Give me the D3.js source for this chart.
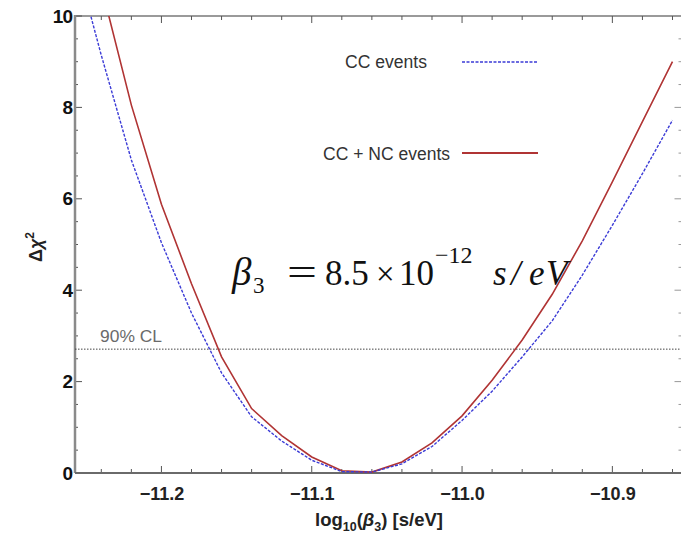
<!DOCTYPE html>
<html>
<head>
<meta charset="utf-8">
<script src="https://cdn.jsdelivr.net/npm/d3@7/dist/d3.min.js"></script>
<style>
  html, body { margin: 0; padding: 0; background: #fff; }
  svg { display: block; }
</style>
</head>
<body>
<svg id="chart" width="681" height="544"></svg>
<script>
// log10(beta3) sampling grid, step 0.02
const logBeta = [-11.26, -11.24, -11.22, -11.20, -11.18, -11.16, -11.14, -11.12, -11.10, -11.08,
                 -11.06, -11.04, -11.02, -11.00, -10.98, -10.96, -10.94, -10.92, -10.90, -10.88, -10.86];
// Delta chi^2, CC events only
const chi2CC   = [11.6, 9.14, 6.85, 5.04, 3.50, 2.19, 1.23, 0.70, 0.28, 0.03,
                  0.02, 0.20, 0.58, 1.15, 1.79, 2.54, 3.33, 4.33, 5.42, 6.55, 7.72];
// Delta chi^2, CC + NC events
const chi2CCNC = [13.3, 10.65, 8.05, 5.88, 4.14, 2.54, 1.41, 0.82, 0.35, 0.05,
                  0.02, 0.24, 0.66, 1.25, 2.03, 2.91, 3.91, 5.08, 6.37, 7.69, 9.0];
const clLevel = 2.71;
const xTicks = [-11.2, -11.1, -11.0, -10.9];
const yTicks = [0, 2, 4, 6, 8, 10];

const svg = d3.select("#chart");
const mLeft = 75, mRight = 680, mTop = 16, mBottom = 473;
const frameRight = 681.5;

const x = d3.scaleLinear().domain([-11.2575, -10.855]).range([mLeft, mRight]);
const y = d3.scaleLinear().domain([0, 10]).range([mBottom, mTop]);

svg.append("defs").append("clipPath").attr("id", "plotClip")
  .append("rect").attr("x", mLeft).attr("y", mTop).attr("width", frameRight - mLeft).attr("height", mBottom - mTop);

const sans = "Liberation Sans, Arial, Helvetica, sans-serif";

// top frame edge
svg.append("line").attr("x1", mLeft).attr("x2", frameRight).attr("y1", mTop).attr("y2", mTop)
  .attr("stroke", "#9a9a9a").attr("stroke-width", 2);

// ticks on all four sides
const xMinor = d3.range(-11.24, -10.855, 0.02).map(v => +v.toFixed(2));
const yMinor = d3.range(0, 10.01, 0.5);
const tickG = svg.append("g").attr("stroke", "#555").attr("stroke-width", 1);
xMinor.forEach(v => {
  const major = xTicks.some(t => Math.abs(t - v) < 1e-6);
  const len = major ? 7 : 4;
  tickG.append("line").attr("x1", x(v)).attr("x2", x(v)).attr("y1", mBottom).attr("y2", mBottom - len);
  tickG.append("line").attr("x1", x(v)).attr("x2", x(v)).attr("y1", mTop).attr("y2", mTop + len);
});
yMinor.forEach(v => {
  const major = yTicks.includes(v);
  const len = major ? 7 : 3;
  tickG.append("line").attr("x1", mLeft).attr("x2", mLeft + len).attr("y1", y(v)).attr("y2", y(v));
  tickG.append("line").attr("x1", frameRight).attr("x2", frameRight - len).attr("y1", y(v)).attr("y2", y(v))
    .attr("stroke", "#999");
});

// axis lines
svg.append("line").attr("x1", mLeft).attr("x2", mLeft).attr("y1", mTop - 1).attr("y2", mBottom)
  .attr("stroke", "#8a8a8a").attr("stroke-width", 2.5);
svg.append("line").attr("x1", mLeft).attr("x2", frameRight).attr("y1", mBottom).attr("y2", mBottom)
  .attr("stroke", "#6a6a6a").attr("stroke-width", 2);

// tick labels
const xAxis = d3.axisBottom(x).tickValues(xTicks).tickSize(0).tickPadding(14)
  .tickFormat(d => d3.format(".1f")(d).replace("-", "\u2212"));
const gx = svg.append("g").attr("transform", `translate(0,${mBottom})`).call(xAxis);
gx.select(".domain").remove();
gx.selectAll("text").attr("font-family", sans).attr("y", 27).attr("dy", 0)
  .attr("font-weight", "bold").attr("font-size", 18).attr("fill", "#222");

const yAxis = d3.axisLeft(y).tickValues(yTicks).tickSize(0).tickPadding(3);
const gy = svg.append("g").attr("transform", `translate(${mLeft},0)`).call(yAxis);
gy.select(".domain").remove();
gy.selectAll("text").attr("font-family", sans)
  .attr("font-weight", "bold").attr("font-size", 19).attr("fill", "#111")
  .attr("letter-spacing", -1);

// axis titles
const xt = svg.append("text").attr("x", 379).attr("y", 526).attr("text-anchor", "middle")
  .attr("font-family", sans).attr("font-weight", "bold")
  .attr("font-size", 18.5).attr("fill", "#222");
xt.append("tspan").text("log");
xt.append("tspan").attr("font-size", 12.5).attr("dy", 5).text("10");
xt.append("tspan").attr("dy", -5).text("(");
xt.append("tspan").attr("font-style", "italic").text("\u03B2");
xt.append("tspan").attr("font-size", 12.5).attr("dy", 5).text("3");
xt.append("tspan").attr("dy", -5).text(")  [s/eV]");

const yt = svg.append("text").attr("transform", "translate(42,247) rotate(-90)")
  .attr("text-anchor", "middle").attr("font-family", sans)
  .attr("font-weight", "bold").attr("font-size", 18).attr("fill", "#222");
yt.append("tspan").text("\u0394");
yt.append("tspan").attr("font-style", "italic").text("\u03C7");
yt.append("tspan").attr("font-size", 12).attr("dy", -8).text("2");

// 90% CL reference line
svg.append("line").attr("x1", mLeft).attr("x2", frameRight).attr("y1", y(clLevel)).attr("y2", y(clLevel))
  .attr("stroke", "#444").attr("stroke-width", 1).attr("stroke-dasharray", "1.5,1.5");
svg.append("text").attr("x", 100).attr("y", y(clLevel) - 7)
  .attr("font-family", sans).attr("font-size", 16.5)
  .attr("fill", "#6a6a6a").attr("textLength", 62).attr("lengthAdjust", "spacingAndGlyphs")
  .text("90% CL");

// curves
const line = d3.line().x(d => x(d[0])).y(d => y(d[1]));
const plot = svg.append("g").attr("clip-path", "url(#plotClip)");
plot.append("path").datum(d3.zip(logBeta, chi2CCNC)).attr("d", line)
  .attr("fill", "none").attr("stroke", "#b03434").attr("stroke-width", 1.6);
plot.append("path").datum(d3.zip(logBeta, chi2CC)).attr("d", line)
  .attr("fill", "none").attr("stroke", "#3b3bd6").attr("stroke-width", 1.4)
  .attr("stroke-dasharray", "3,1.5");

// legend
const legend = [
  { label: "CC events", tx: 345, tl: 82, ty: 68, ly: 62, color: "#3b3bd6", dash: "3,1.5", w: 1.4 },
  { label: "CC + NC events", tx: 323, tl: 127, ty: 160, ly: 153, color: "#b03434", dash: null, w: 2.2 }
];
legend.forEach(l => {
  svg.append("text").attr("x", l.tx).attr("y", l.ty)
    .attr("font-family", sans).attr("font-size", 18)
    .attr("textLength", l.tl).attr("lengthAdjust", "spacingAndGlyphs")
    .attr("fill", "#333").text(l.label);
  svg.append("line").attr("x1", 462).attr("x2", 538).attr("y1", l.ly).attr("y2", l.ly)
    .attr("stroke", l.color).attr("stroke-width", l.w).attr("stroke-dasharray", l.dash);
});

// best-fit value annotation, laid out glyph group by glyph group
const serif = "Liberation Serif, Times New Roman, serif";
const eqParts = [
  { t: "\u03B2",   x: 232, y: 285, size: 39, italic: true },
  { t: "3",        x: 253, y: 293, size: 23, italic: false },
  { t: "=",        x: 287, y: 285, size: 38, italic: false, len: 30 },
  { t: "8.5",      x: 325, y: 285, size: 35, italic: false },
  { t: "\u00D7",   x: 376, y: 285, size: 33, italic: false },
  { t: "10",       x: 399, y: 285, size: 35, italic: false },
  { t: "\u221212", x: 435, y: 263, size: 24, italic: false },
  { t: "s",        x: 493, y: 285, size: 35, italic: true },
  { t: "/",        x: 511, y: 285, size: 35, italic: true },
  { t: "e",        x: 529, y: 285, size: 35, italic: true },
  { t: "V",        x: 546, y: 285, size: 35, italic: true }
];
const eq = svg.append("g").attr("font-family", serif).attr("fill", "#111");
eqParts.forEach(p => {
  const t = eq.append("text").attr("x", p.x).attr("y", p.y).attr("font-size", p.size)
    .attr("font-style", p.italic ? "italic" : "normal").text(p.t);
  if (p.len) t.attr("textLength", p.len).attr("lengthAdjust", "spacingAndGlyphs");
});
</script>
</body>
</html>
